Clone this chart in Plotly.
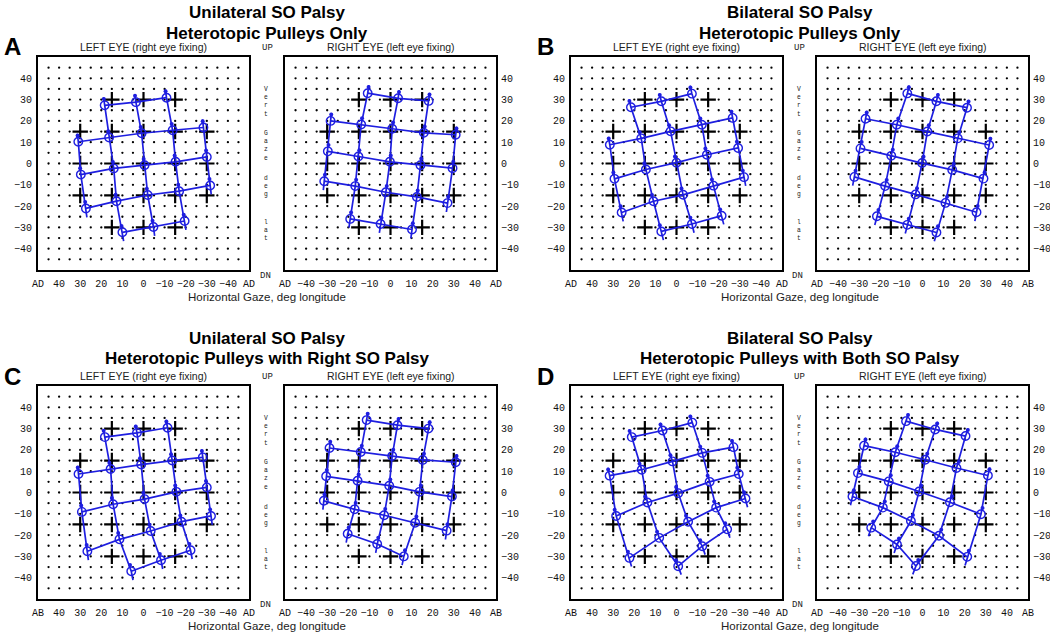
import plotly.graph_objects as go

W, H = 1050, 635

# ---------------- data ----------------
# target fixation grid (deg), order: rows top->bottom, within row x descending
TARGET_X = [15, 0, -15, 30, 15, 0, -15, -30, 30, 15, 0, -15, -30, 30, 15, 0, -15, -30, 15, 0, -15]
TARGET_Y = [30, 30, 30, 15, 15, 15, 15, 15, 0, 0, 0, 0, 0, -15, -15, -15, -15, -15, -30, -30, -30]

GRID_DEG = [-45, -40, -35, -30, -25, -20, -15, -10, -5, 0, 5, 10, 15, 20, 25, 30, 35, 40, 45]
Y_TICKS = [40, 30, 20, 10, 0, -10, -20, -30, -40]
Y_TICK_TEXT = ["40", "30", "20", "10", "0", "\u221210", "\u221220", "\u221230", "\u221240"]
X_TICKS = [50, 40, 30, 20, 10, 0, -10, -20, -30, -40, -50]

# measured gaze positions (deg) in the same order as the targets
A_LEFT_X = [18.4, 3.6, -10.9, 30.9, 16.3, 0.9, -13.8, -28.4, 29.7, 14.1, -0.5, -15.2, -30.0,
            27.3, 12.8, -2.0, -16.9, -31.6, 10.0, -4.7, -19.5]
A_LEFT_Y = [27.3, 28.8, 30.9, 10.2, 12.2, 14.2, 15.6, 16.9, -5.2, -2.3, -0.8, 0.8, 3.1,
            -21.1, -17.7, -14.8, -13.0, -10.3, -32.3, -29.8, -27.0]

A_RIGHT_X = [18.1, 3.6, -10.8, 30.9, 15.8, 0.8, -13.9, -28.4, 29.4, 14.2, -0.3, -15.2, -29.7,
             27.0, 12.5, -2.2, -16.7, -31.4, 10.2, -4.7, -19.1]
A_RIGHT_Y = [29.4, 30.6, 33.0, 13.5, 14.4, 16.3, 18.3, 20.0, -2.2, -0.8, 0.8, 3.3, 5.7,
             -18.6, -15.7, -13.5, -10.6, -8.3, -31.0, -28.4, -26.0]

B_LEFT_X = [21.6, 7.2, -7.3, 31.6, 16.7, 2.8, -12.0, -26.6, 29.4, 14.5, 0.0, -14.4, -29.2,
            26.0, 10.9, -3.1, -17.5, -32.0, 7.2, -7.3, -21.4]
B_LEFT_Y = [26.4, 29.2, 32.8, 8.8, 11.8, 15.1, 18.2, 21.4, -7.2, -2.8, 0.4, 4.1, 7.3,
            -23.0, -17.7, -14.7, -10.4, -6.4, -31.9, -28.4, -24.5]

B_RIGHT_X = [21.1, 6.6, -7.2, 31.6, 16.7, 2.3, -12.2, -27.0, 28.9, 14.1, -0.2, -14.8, -29.4,
             25.6, 10.9, -3.3, -17.7, -32.3, 6.6, -7.2, -21.6]
B_RIGHT_Y = [26.2, 29.2, 32.9, 8.7, 11.8, 15.0, 18.2, 21.0, -7.1, -3.0, 0.2, 3.6, 7.1,
             -22.9, -18.5, -14.5, -10.6, -6.3, -32.4, -28.8, -24.8]

C_LEFT_X = [18.3, 3.1, -11.4, 30.8, 15.6, 1.1, -13.6, -28.1, 29.2, 14.4, -0.5, -15.6, -30.0,
            26.6, 11.4, -3.4, -18.0, -32.0, 5.8, -8.3, -22.3]
C_LEFT_Y = [26.0, 28.0, 30.4, 8.7, 11.0, 13.1, 15.0, 16.5, -9.1, -5.5, -3.1, 0.3, 2.4,
            -27.6, -22.0, -18.1, -13.7, -11.0, -37.0, -31.8, -27.1]

C_RIGHT_X = [18.0, 3.3, -11.3, 30.9, 15.3, 0.8, -14.1, -28.9, 29.1, 13.8, -0.6, -15.6, -30.5,
             26.6, 11.7, -3.0, -17.0, -31.6, 6.3, -6.3, -20.3]
C_RIGHT_Y = [30.0, 31.6, 34.0, 14.2, 15.3, 17.1, 19.0, 20.9, -1.9, 0.3, 3.2, 5.5, 7.6,
             -17.9, -14.2, -10.7, -7.9, -3.9, -30.0, -24.2, -19.4]

D_LEFT_X = [21.2, 6.6, -7.5, 31.7, 16.5, 1.9, -12.2, -27.0, 28.6, 13.8, -0.8, -15.7, -29.5,
            22.3, 8.2, -5.5, -18.8, -32.7, -0.8, -12.2, -24.0]
D_LEFT_Y = [26.0, 29.1, 32.8, 7.9, 10.7, 14.6, 18.6, 21.3, -11.0, -4.7, -0.3, 5.0, 8.7,
            -30.7, -21.3, -13.7, -7.1, -2.8, -34.6, -25.2, -17.3]

D_RIGHT_X = [20.4, 6.0, -7.8, 31.0, 16.1, 1.3, -12.9, -27.7, 27.7, 13.0, -1.6, -16.0, -30.6,
             21.2, 7.8, -5.5, -18.8, -33.2, -3.1, -12.1, -24.3]
D_RIGHT_Y = [26.5, 29.6, 33.5, 8.0, 11.5, 15.4, 18.9, 22.0, -10.2, -4.6, 0.5, 5.2, 9.1,
             -30.2, -20.3, -13.4, -7.1, -1.9, -34.5, -24.4, -16.5]

PANEL_TITLES = [
    ("Unilateral SO Palsy", "Heterotopic Pulleys Only"),
    ("Bilateral SO Palsy", "Heterotopic Pulleys Only"),
    ("Unilateral SO Palsy", "Heterotopic Pulleys with Right SO Palsy"),
    ("Bilateral SO Palsy", "Heterotopic Pulleys with Both SO Palsy"),
]
PANEL_LETTERS = ["A", "B", "C", "D"]
EYE_TITLES = ["LEFT EYE (right eye fixing)", "RIGHT EYE (left eye fixing)"]
X_TITLE = "Horizontal Gaze, deg longitude"
SIDE_WORDS = ["Vert", "Gaze", "deg", "lat"]

# ---------------- layout geometry (px) ----------------
COLS = [(38, 285), (571, 817)]      # left frame x0, right frame x0 per panel column
ROWS = [57, 386]                    # frame top per panel row
TITLE_OFFSETS = [44, 48]            # first title line above frame top, per panel row
FW, FH = 211, 213

SUBPLOTS = [
    # (panel, eye, data x, data y, x-tick end labels)
    (0, "L", A_LEFT_X, A_LEFT_Y, ("AD", "AD")),
    (0, "R", A_RIGHT_X, A_RIGHT_Y, ("AD", "AD")),
    (1, "L", B_LEFT_X, B_LEFT_Y, ("AD", "AD")),
    (1, "R", B_RIGHT_X, B_RIGHT_Y, ("AD", "AB")),
    (2, "L", C_LEFT_X, C_LEFT_Y, ("AB", "AD")),
    (2, "R", C_RIGHT_X, C_RIGHT_Y, ("AD", "AB")),
    (3, "L", D_LEFT_X, D_LEFT_Y, ("AB", "AD")),
    (3, "R", D_RIGHT_X, D_RIGHT_Y, ("AD", "AB")),
]

BLUE = "#1e1ee0"
MONO = "Liberation Mono, Courier New, monospace"
SANS = "Liberation Sans, Arial, sans-serif"


def px(x, y):
    return x / W, 1 - y / H


def note(x, y, text, font):
    ax_, ay_ = px(x, y)
    return dict(x=ax_, y=ay_, xref="paper", yref="paper", showarrow=False,
                xanchor="center", yanchor="middle", text=text, font=font)


fig = go.Figure()
annotations = []

for i, (panel, eye, dx, dy, ends) in enumerate(SUBPLOTS, start=1):
    pcol, prow = panel % 2, panel // 2
    fx0 = COLS[pcol][0] if eye == "L" else COLS[pcol][1]
    fy0 = ROWS[prow]
    xr = "x" if i == 1 else f"x{i}"
    yr = "y" if i == 1 else f"y{i}"

    # background dot grid
    gx = [g for g in GRID_DEG for _ in GRID_DEG]
    gy = [g for _ in GRID_DEG for g in GRID_DEG]
    fig.add_trace(go.Scatter(x=gx, y=gy, mode="markers", xaxis=xr, yaxis=yr,
                             marker=dict(size=2.3, color="black"), hoverinfo="skip"))
    # target crosses
    fig.add_trace(go.Scatter(x=TARGET_X, y=TARGET_Y, mode="markers", xaxis=xr, yaxis=yr,
                             marker=dict(symbol="cross-thin", size=11, color="black",
                                         line=dict(width=2.2, color="black")),
                             hoverinfo="skip"))

    # blue grid: rows and columns
    lx, ly = [], []
    sx, sy = [], []
    for ty in sorted(set(TARGET_Y), reverse=True):
        idx = sorted([k for k in range(len(TARGET_Y)) if TARGET_Y[k] == ty],
                     key=lambda k: -TARGET_X[k])
        lx += [dx[k] for k in idx] + [None]
        ly += [dy[k] for k in idx] + [None]
    for tx in sorted(set(TARGET_X), reverse=True):
        idx = sorted([k for k in range(len(TARGET_X)) if TARGET_X[k] == tx],
                     key=lambda k: -TARGET_Y[k])
        top, bot = idx[0], idx[-1]
        vx, vy = dx[top] - dx[bot], dy[top] - dy[bot]
        n = (vx ** 2 + vy ** 2) ** 0.5
        ux, uy = vx / n, vy / n
        lx += [dx[top] + ux * 3.8] + [dx[k] for k in idx] + [dx[bot] - ux * 4.2, None]
        ly += [dy[top] + uy * 3.8] + [dy[k] for k in idx] + [dy[bot] - uy * 4.2, None]
        for k in idx:
            sx.append(dx[k] + ux * 3.0)
            sy.append(dy[k] + uy * 3.0)
    fig.add_trace(go.Scatter(x=lx, y=ly, mode="lines", xaxis=xr, yaxis=yr,
                             line=dict(color=BLUE, width=1.7), hoverinfo="skip"))
    fig.add_trace(go.Scatter(x=sx, y=sy, mode="markers", xaxis=xr, yaxis=yr,
                             marker=dict(size=4, color=BLUE), hoverinfo="skip"))
    fig.add_trace(go.Scatter(x=dx, y=dy, mode="markers", xaxis=xr, yaxis=yr,
                             marker=dict(symbol="circle-open", size=8.5, color=BLUE,
                                         line=dict(width=1.4, color=BLUE)),
                             hoverinfo="skip"))

    # axes
    d0x, d1x = fx0 / W, (fx0 + FW) / W
    d0y, d1y = 1 - (fy0 + FH) / H, 1 - fy0 / H
    if eye == "L":
        xrange = [50, -50]
        xtext = [ends[0], "40", "30", "20", "10", "0", "\u221210", "\u221220", "\u221230", "\u221240", ends[1]]
    else:
        xrange = [-50, 50]
        xtext = [ends[1], "40", "30", "20", "10", "0", "\u221210", "\u221220", "\u221230", "\u221240", ends[0]]
    axcommon = dict(showgrid=False, zeroline=False, showline=True, mirror=True,
                    linecolor="black", linewidth=2, ticks="", automargin=False,
                    tickfont=dict(family=MONO, size=10, color="#111"))
    fig.update_layout(**{
        ("xaxis" if i == 1 else f"xaxis{i}"): dict(
            domain=[d0x, d1x], range=xrange, anchor=yr, tickmode="array",
            tickvals=X_TICKS, ticktext=xtext, ticklabelstandoff=3, **axcommon),
        ("yaxis" if i == 1 else f"yaxis{i}"): dict(
            domain=[d0y, d1y], range=[-50, 50], anchor=xr, tickmode="array",
            tickvals=Y_TICKS, ticktext=Y_TICK_TEXT, side="left" if eye == "L" else "right",
            ticklabelstandoff=2 if eye == "L" else 1, **axcommon),
    })

    # eye title
    annotations.append(note(fx0 + FW / 2, fy0 - 10,
                            EYE_TITLES[0] if eye == "L" else EYE_TITLES[1],
                            dict(family=SANS, size=10.5, color="#222")))

# panel-level texts
for p in range(4):
    pcol, prow = p % 2, p // 2
    lx0, rx0 = COLS[pcol]
    fy0 = ROWS[prow]
    cx = (lx0 + FW + rx0) / 2
    for k, t in enumerate(PANEL_TITLES[p]):
        annotations.append(note(cx, fy0 - TITLE_OFFSETS[prow] + 20 * k, f"<b>{t}</b>",
                                dict(family=SANS, size=17, color="black")))
    annotations.append(note(lx0 - 26, fy0 - 10, f"<b>{PANEL_LETTERS[p]}</b>",
                            dict(family=SANS, size=24, color="black")))
    annotations.append(note(cx, fy0 + FH + 27, X_TITLE,
                            dict(family=SANS, size=11.5, color="#222")))
    annotations.append(note(cx, fy0 - 9, "UP", dict(family=MONO, size=9, color="#222")))
    annotations.append(note(cx - 2, fy0 + FH + 6, "DN", dict(family=MONO, size=9, color="#222")))
    # stacked vertical label: one text block per word, letters on separate lines
    for w, word in enumerate(SIDE_WORDS):
        ymid = fy0 + 35 + 44 * w + 6.6 * (len(word) - 1) / 2
        annotations.append(note(cx - 1, ymid, "<br>".join(word),
                                dict(family=MONO, size=6.3, color="#222")))

fig.update_layout(width=W, height=H, margin=dict(l=0, r=0, t=0, b=0, autoexpand=False),
                  paper_bgcolor="white", plot_bgcolor="white", showlegend=False,
                  annotations=annotations)

fig.write_html("out.html", config={"displayModeBar": False},
               post_script="document.body.style.margin='0px';document.body.style.overflow='hidden';")
